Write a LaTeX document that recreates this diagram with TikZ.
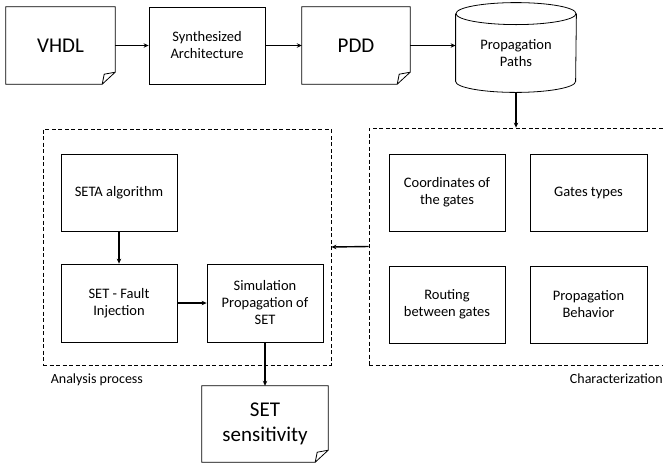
\documentclass[tikz,border=0pt]{standalone}
\usepackage{fontspec}
\setmainfont{Carlito}
\usetikzlibrary{arrows.meta}

\tikzset{
  box/.style={draw, line width=0.8pt, align=center, font=\fontsize{14.5}{17}\selectfont},
  docbox/.style={align=center, font=\fontsize{21}{25}\selectfont},
  group/.style={draw, line width=0.8pt, dash pattern=on 4pt off 2.5pt},
  lbl/.style={inner sep=0pt, font=\fontsize{14}{17}\selectfont},
  arr/.style={-{Stealth[length=5pt,width=4.5pt]}, line width=1.4pt},
}

\begin{document}
\begin{tikzpicture}[x=1pt,y=1pt]
        \useasboundingbox (0,0) rectangle (663,-464);

        % Top row: design flow
        \node[docbox, minimum width=109, minimum height=77] (vhdl) at (60.5,-45.5) {VHDL};
        \node[box, minimum width=116, minimum height=77] (synth) at (207,-45.5) {Synthesized\\Architecture};
        \node[docbox, minimum width=108, minimum height=77] (pdd) at (356,-45.5) {PDD};
        \node[box, draw=none, minimum width=120, minimum height=78] (paths) at (516,-53) {Propagation\\Paths};

        % Database shape around the paths node
        \draw[line width=0.8pt] (paths.north west) -- ([yshift=11]paths.south west)
            arc[start angle=180, end angle=360, x radius=60, y radius=11] -- (paths.north east);
        \draw[line width=0.8pt] (paths.north) ellipse [x radius=60, y radius=11];

        % Dashed groups
        \node[group, minimum width=288, minimum height=236] (analysis) at (187,-247) {};
        \node[group, minimum width=298, minimum height=237] (charac) at (518,-246.5) {};
        \node[lbl, anchor=base west] (analysislbl) at ([xshift=8,yshift=-18]analysis.south west) {Analysis process};
        \node[lbl, anchor=base east] (characlbl) at ([xshift=-4.5,yshift=-18]charac.south east) {Characterization};

        % Analysis process
        \node[box, minimum width=116, minimum height=77] (seta) at (119,-192.5) {SETA algorithm};
        \node[box, minimum width=116, minimum height=78] (fault) at (119,-303) {SET - Fault\\Injection};
        \node[box, minimum width=116, minimum height=78] (sim) at (265,-303) {Simulation\\Propagation of\\SET};

        % Characterization
        \node[box, minimum width=116, minimum height=77] (coord) at (447,-192.5) {Coordinates of\\the gates};
        \node[box, minimum width=117, minimum height=77] (gates) at (588.5,-192.5) {Gates types};
        \node[box, minimum width=116, minimum height=77] (routing) at (447,-304.5) {Routing\\between gates};
        \node[box, minimum width=117, minimum height=77] (behav) at (588.5,-304.5) {Propagation\\Behavior};

        % Result
        \node[docbox, minimum width=126, minimum height=76] (sens) at (265,-424) {SET\\sensitivity};

        % Document outlines with folded corner
        \foreach \d in {vhdl,pdd,sens} {
            \draw[line width=0.8pt] (\d.north west) -- (\d.north east) -- ([yshift=12]\d.south east)
                -- ([xshift=-13]\d.south east) -- (\d.south west) -- cycle;
            \draw[line width=0.8pt] ([yshift=12]\d.south east) -- ([xshift=-11,yshift=10]\d.south east)
                -- ([xshift=-13]\d.south east);
        }

        % Connectors
        \draw[arr] (vhdl.east) -- (synth.west);
        \draw[arr] (synth.east) -- (pdd.west);
        \draw[arr] (pdd.east) -- (pdd.east -| paths.west);
        \draw[arr] (paths.south) -- (paths.south |- charac.north);
        \draw[arr] (charac.west) -- (analysis.east);
        \draw[arr] (seta.south) -- (fault.north);
        \draw[arr] (fault.east) -- (sim.west);
        \draw[arr] (sim.south) -- (sens.north);

\end{tikzpicture}
\end{document}
